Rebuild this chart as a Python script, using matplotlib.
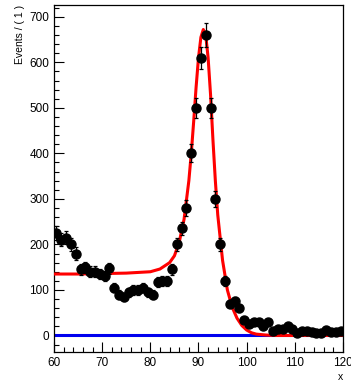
import numpy as np
import matplotlib.pyplot as plt
from matplotlib.ticker import MultipleLocator

plt.rcParams['font.family'] = ['Liberation Sans', 'DejaVu Sans']

# binned data: bin centres and counts
x_bins = np.arange(60.5, 120, 1.0)
counts = [225, 210, 215, 200, 180, 145, 150, 140, 140, 135,
          130, 148, 105, 90, 85, 95, 100, 100, 105, 95,
          90, 118, 120, 120, 145, 200, 235, 280, 400, 500,
          610, 660, 500, 300, 200, 120, 70, 75, 60, 35,
          25, 30, 30, 20, 30, 10, 15, 15, 20, 15,
          5, 10, 10, 8, 5, 5, 12, 8, 8, 10]

# fitted model curve (sig + bkg)
curve_x = [60, 65, 70, 75, 80, 82, 84, 85, 86, 87, 88, 88.5, 89, 89.5, 90,
           90.5, 91, 91.5, 92, 92.5, 93, 93.5, 94, 95, 96, 97, 98, 99,
           100, 101, 102, 104, 106, 110, 120]
curve_y = [135, 135, 136, 137, 140, 146, 160, 175, 205, 255, 340, 400, 470,
           545, 610, 655, 672, 660, 610, 530, 430, 340, 265, 165, 100, 62,
           38, 22, 12, 6, 3, 1, 0, 0, 0]

# background component
bkg_x = [60, 120]
bkg_y = [0, 0]

fig = plt.figure(figsize=(3.51, 3.80), dpi=100)
ax = fig.add_axes([0.154, 0.074, 0.823, 0.913])

ax.plot(bkg_x, bkg_y, color='#0000ee', lw=2.2, zorder=2)
ax.plot(curve_x, curve_y, color='#ff0000', lw=2.2, zorder=3)
ax.errorbar(x_bins, counts, yerr=np.sqrt(counts), fmt='o', color='black',
            ms=6.5, elinewidth=0.9, capsize=1.5, capthick=0.9, zorder=4)

ax.set_xlim(60, 120)
ax.set_ylim(-36, 726)
ax.xaxis.set_major_locator(MultipleLocator(10))
ax.xaxis.set_minor_locator(MultipleLocator(2))
ax.yaxis.set_major_locator(MultipleLocator(100))
ax.yaxis.set_minor_locator(MultipleLocator(20))
ax.tick_params(which='both', direction='in', top=False, right=False,
               labelsize=8.5, width=0.8)
ax.tick_params(which='major', length=7)
ax.tick_params(which='minor', length=3.5)
for s in ax.spines.values():
    s.set_linewidth(0.9)

ax.set_ylabel('Events / ( 1 )', fontsize=7.5, loc='top', labelpad=3)
ax.set_xlabel('x', fontsize=7.5, loc='right', labelpad=2)

fig.savefig('out.png', dpi=100)
